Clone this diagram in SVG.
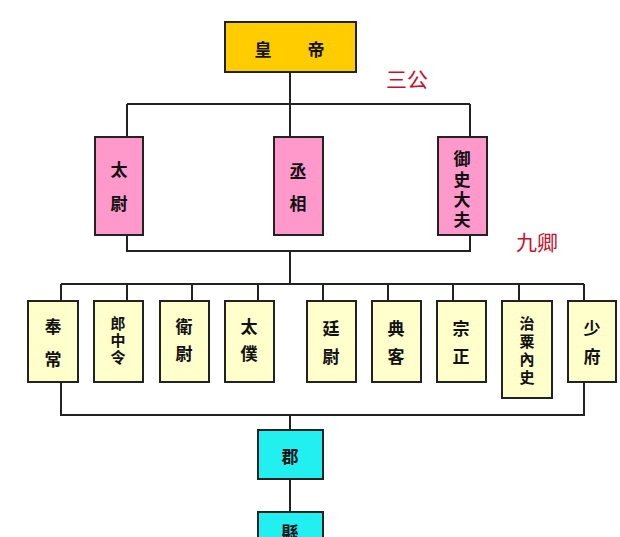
<svg xmlns="http://www.w3.org/2000/svg" width="620" height="537" viewBox="0 0 620 537">
<style>
.b{stroke:#222;stroke-width:2}
.t{font-family:"Noto Sans CJK SC","Noto Sans CJK TC",sans-serif;font-size:17px;fill:#111;text-anchor:middle;dominant-baseline:central;font-weight:bold}
.s{font-size:15px}
.r{font-family:"Noto Sans CJK SC",sans-serif;font-size:21px;fill:#c8102e;dominant-baseline:central}
.y{fill:#FFFFCC}.p{fill:#FF99CC}.c{fill:#22F0F0}
</style>
<rect width="620" height="537" fill="#fff"/>
<g id="connectors" fill="none" stroke="#222" stroke-width="2">
<path d="M290 72V137M127 104H470M127 104V137M470 104V137"/>
<path d="M127 235V251H470V235M290 251V284M61 284H584"/>
<path d="M61 284V301M127 284V301M192 284V301M258 284V301M323 284V301M388 284V301M453 284V301M519 284V301M584 284V301"/>
<path d="M61 382V415H584V382M290 415V430M290 479V512"/>
</g>
<g id="huangdi"><rect class="b" x="225" y="22" width="131" height="50" fill="#FFCC00"/><text class="t" x="263" y="48" font-size="20">皇</text><text class="t" x="316" y="48" font-size="20">帝</text></g>
<g id="sangong"><text class="r" x="386" y="78">三公</text></g>
<g id="jiuqing"><text class="r" x="516" y="241">九卿</text></g>
<g id="taiwei"><rect class="b p" x="95" y="137" width="48" height="98"/><text class="t" x="119" y="168">太</text><text class="t" x="119" y="202">尉</text></g>
<g id="chengxiang"><rect class="b p" x="274" y="137" width="49" height="98"/><text class="t" x="298" y="170">丞</text><text class="t" x="298" y="202">相</text></g>
<g id="yushidafu"><rect class="b p" x="438" y="137" width="49" height="98"/><text class="t" x="462" y="157">御</text><text class="t" x="462" y="178">史</text><text class="t" x="462" y="198">大</text><text class="t" x="462" y="218">夫</text></g>
<g id="fengchang"><rect class="b y" x="28" y="301" width="50" height="81"/><text class="t" x="53" y="325">奉</text><text class="t" x="53" y="358">常</text></g>
<g id="langzhongling"><rect class="b y" x="94" y="301" width="49" height="81"/><text class="t s" x="118" y="322">郎</text><text class="t s" x="118" y="339">中</text><text class="t s" x="118" y="356">令</text></g>
<g id="weiwei"><rect class="b y" x="160" y="301" width="49" height="81"/><text class="t" x="184" y="325">衛</text><text class="t" x="184" y="352">尉</text></g>
<g id="taipu"><rect class="b y" x="225" y="301" width="49" height="81"/><text class="t" x="249" y="325">太</text><text class="t" x="249" y="352">僕</text></g>
<g id="tingwei"><rect class="b y" x="307" y="301" width="49" height="81"/><text class="t" x="331" y="327">廷</text><text class="t" x="331" y="355">尉</text></g>
<g id="dianke"><rect class="b y" x="372" y="301" width="49" height="81"/><text class="t" x="396" y="327">典</text><text class="t" x="396" y="355">客</text></g>
<g id="zongzheng"><rect class="b y" x="437" y="301" width="49" height="81"/><text class="t" x="461" y="327">宗</text><text class="t" x="461" y="355">正</text></g>
<g id="zhisuneishi"><rect class="b y" x="502" y="301" width="50" height="97"/><text class="t s" x="527" y="322">治</text><text class="t s" x="527" y="340">粟</text><text class="t s" x="527" y="358">內</text><text class="t s" x="527" y="376">史</text></g>
<g id="shaofu"><rect class="b y" x="568" y="301" width="48" height="81"/><text class="t" x="592" y="327">少</text><text class="t" x="592" y="355">府</text></g>
<g id="jun"><rect class="b c" x="258" y="430" width="65" height="49"/><text class="t" x="290" y="455" font-size="20">郡</text></g>
<g id="xian"><rect class="b c" x="258" y="512" width="65" height="40"/><text class="t" x="290" y="531" font-size="20">縣</text></g>
</svg>
